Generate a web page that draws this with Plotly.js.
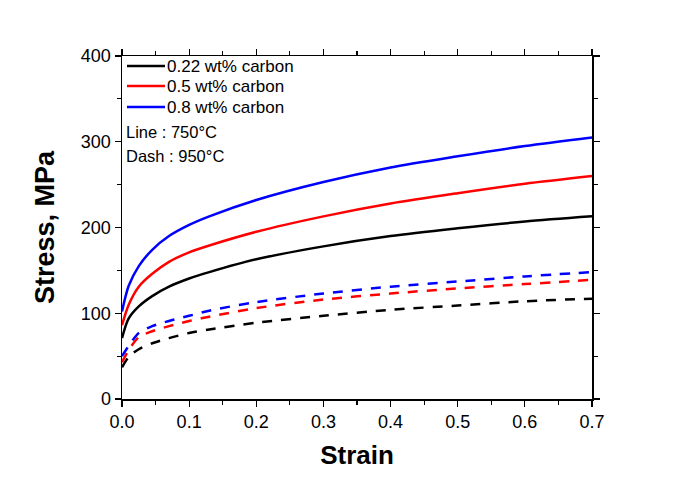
<!DOCTYPE html>
<html><head><meta charset="utf-8">
<script src="https://cdn.plot.ly/plotly-3.0.1.min.js"></script>
<style>html,body{margin:0;padding:0;background:#fff}</style>
</head><body>
<div id="chart" style="width:687px;height:480px"></div>
<script>
const strain = [0, 0.01, 0.025, 0.045, 0.07, 0.1, 0.13, 0.2, 0.3, 0.4, 0.5, 0.6, 0.7];
const c022_750 = [71, 94, 108, 120, 131, 140.5, 148, 163, 178, 190, 199, 207, 213];
const c05_750  = [86, 110, 131, 146, 160, 171, 179, 195, 213, 228, 240, 251, 260];
const c08_750  = [102, 132, 155, 174, 190, 203, 213, 232, 253, 270, 283, 295, 305];
const c022_950 = [37, 49, 58, 65, 71, 77, 81, 89, 97, 104, 109, 114, 117];
const c05_950  = [43, 57, 72, 79, 85, 91, 96, 106, 116, 123, 129, 134, 139];
const c08_950  = [50, 62, 77, 85, 91, 97, 103, 113, 123, 131, 137, 143, 148];
const names = ['0.22 wt% carbon', '0.5 wt% carbon', '0.8 wt% carbon'];
const notes = ['Line : 750°C', 'Dash : 950°C'];
const colors = ['#000000', '#ff0000', '#0000ff'];

const solid = [c022_750, c05_750, c08_750];
const dashed = [c022_950, c05_950, c08_950];
const traces = [];
solid.forEach((y, i) => traces.push({x: strain, y: y, mode: 'lines', name: names[i],
  line: {color: colors[i], width: 2.5, shape: 'spline', smoothing: 0.8}}));
dashed.forEach((y, i) => traces.push({x: strain, y: y, mode: 'lines', name: names[i] + ' (950°C)',
  line: {color: colors[i], width: 2.5, dash: '10px,9px', shape: 'spline', smoothing: 0.8}}));

const font = 'Arial, "Liberation Sans", sans-serif';

// Legend drawn by hand so that its font size and row spacing match
const legendRows = [0.9708, 0.9125, 0.8513];
const shapes = names.map((n, i) => ({type: 'line', xref: 'paper', yref: 'paper',
  x0: 0.0106, x1: 0.0915, y0: legendRows[i], y1: legendRows[i],
  line: {color: colors[i], width: 2.5}}));
const annotations = names.map((n, i) => ({xref: 'paper', yref: 'paper', x: 0.091, y: legendRows[i],
  xanchor: 'left', yanchor: 'middle', text: n, showarrow: false, font: {size: 17, family: font}}));
[0.778, 0.708].forEach((yy, i) => annotations.push({xref: 'paper', yref: 'paper', x: 0.004, y: yy,
  xanchor: 'left', yanchor: 'middle', text: notes[i], showarrow: false, font: {size: 16.5, family: font}}));

const layout = {
  width: 687, height: 480,
  margin: {l: 122, r: 95, t: 56, b: 81},
  paper_bgcolor: '#fff', plot_bgcolor: '#fff',
  font: {family: font, color: '#000'},
  showlegend: false,
  xaxis: {range: [0, 0.7], dtick: 0.1, tickformat: '.1f', showgrid: false, zeroline: false,
    showline: true, linecolor: '#000', linewidth: 1.5, mirror: 'ticks',
    ticks: 'outside', ticklen: 6, tickcolor: '#000', tickwidth: 1.2,
    minor: {dtick: 0.05, ticks: 'outside', ticklen: 4, tickcolor: '#000'},
    tickfont: {size: 18, family: font},
    title: {text: '<b>Strain</b>', font: {size: 26, family: font}, standoff: 14}},
  yaxis: {range: [0, 400], dtick: 100, showgrid: false, zeroline: false,
    showline: true, linecolor: '#000', linewidth: 1.5, mirror: 'ticks',
    ticks: 'outside', ticklen: 6, tickcolor: '#000', tickwidth: 1.2,
    minor: {dtick: 50, ticks: 'outside', ticklen: 4, tickcolor: '#000'},
    tickfont: {size: 18, family: font},
    title: {text: '<b>Stress, MPa</b>', font: {size: 27, family: font}, standoff: 18}},
  shapes: shapes,
  annotations: annotations
};
Plotly.newPlot('chart', traces, layout, {displayModeBar: false, staticPlot: true});
</script>
</body></html>
